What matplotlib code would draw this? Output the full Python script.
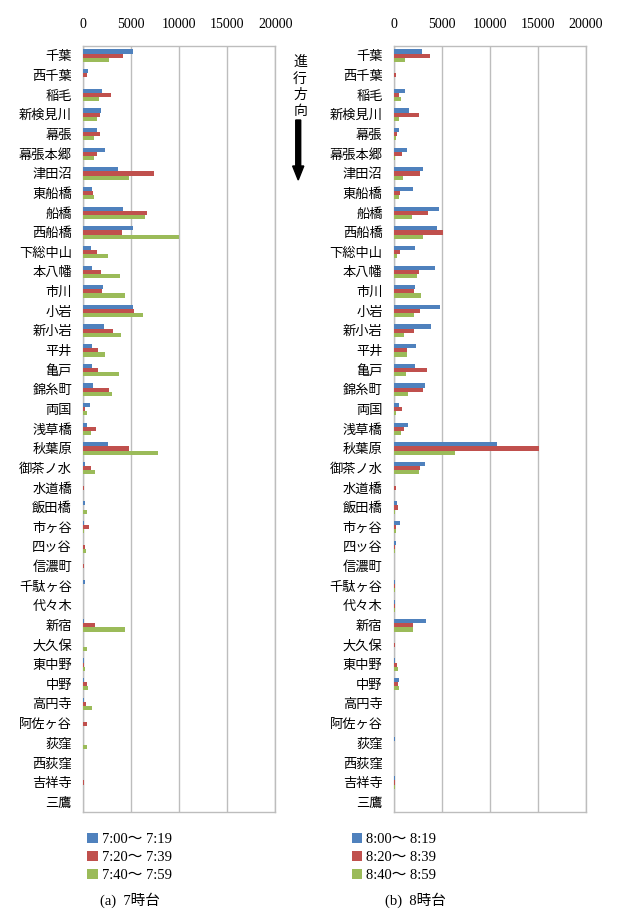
import matplotlib

matplotlib.use("Agg")
import matplotlib.pyplot as plt
from matplotlib.patches import FancyArrow
import numpy as np

plt.rcParams["font.family"] = ["Liberation Serif", "Noto Sans CJK JP", "DejaVu Sans"]

BLUE = "#4F81BD"
RED = "#C0504D"
GREEN = "#9BBB59"
FRAME = "#BDBDBD"

stations = [
    "千葉", "西千葉", "稲毛", "新検見川", "幕張", "幕張本郷", "津田沼", "東船橋",
    "船橋", "西船橋", "下総中山", "本八幡", "市川", "小岩", "新小岩", "平井",
    "亀戸", "錦糸町", "両国", "浅草橋", "秋葉原", "御茶ノ水", "水道橋", "飯田橋",
    "市ヶ谷", "四ッ谷", "信濃町", "千駄ヶ谷", "代々木", "新宿", "大久保", "東中野",
    "中野", "高円寺", "阿佐ヶ谷", "荻窪", "西荻窪", "吉祥寺", "三鷹",
]

# 7時台
h7_a = [5200, 520, 1980, 1910, 1420, 2330, 3640, 940, 4160, 5200,
        800, 970, 2120, 5200, 2190, 970, 970, 1010, 690, 420, 2600, 170,
        0, 170, 100, 0, 0, 200, 0, 140, 0, 140, 100, 50, 0, 0, 0, 0, 0]
h7_b = [4160, 420, 2950, 1740, 1770, 1420, 7390, 1040, 6700, 4030,
        1420, 1840, 2010, 5340, 3160, 1600, 1600, 2710, 170, 1350, 4790, 800,
        100, 0, 620, 240, 140, 0, 0, 1210, 0, 140, 420, 280, 420, 0, 0, 100, 0]
h7_c = [2670, 0, 1670, 1490, 1180, 1180, 4820, 1180, 6490, 10030,
        2640, 3850, 4400, 6280, 3960, 2260, 3780, 2980, 450, 870, 7800, 1280,
        0, 380, 50, 280, 0, 0, 0, 4340, 420, 170, 490, 940, 0, 380, 0, 0, 0]

# 8時台
h8_a = [2990, 70, 1210, 1600, 590, 1350, 3090, 2010, 4720, 4480,
        2190, 4340, 2260, 4790, 3920, 2320, 2220, 3260, 590, 1490, 10760, 3230,
        70, 350, 620, 210, 30, 140, 140, 3400, 50, 100, 590, 30, 0, 170, 0, 170, 0]
h8_b = [3750, 280, 590, 2600, 380, 900, 2710, 660, 3570, 5140,
        620, 2640, 2150, 2740, 2120, 1390, 3440, 3090, 900, 1110, 15100, 2740,
        210, 450, 280, 170, 30, 140, 100, 2010, 140, 350, 490, 30, 0, 0, 0, 140, 0]
h8_c = [1210, 0, 760, 590, 240, 140, 1010, 590, 1910, 3090,
        380, 2390, 2880, 2150, 1040, 1420, 1280, 1530, 240, 730, 6350, 2670,
        70, 170, 280, 140, 30, 100, 100, 2050, 50, 420, 590, 0, 0, 0, 0, 100, 0]

labels7 = ["7:00～ 7:19", "7:20～ 7:39", "7:40～ 7:59"]
labels8 = ["8:00～ 8:19", "8:20～ 8:39", "8:40～ 8:59"]
captions = ["(a)  7時台", "(b)  8時台"]
xticks = [0, 5000, 10000, 15000, 20000]


def draw_panel(ax, series, labels):
    y = np.arange(len(stations))
    h = 0.21
    for off, vals, col, lab in zip((-h, 0, h), series, (BLUE, RED, GREEN), labels):
        ax.barh(y + off, vals, height=h, color=col, label=lab, zorder=3)
    ax.set_xlim(0, 20000)
    ax.set_ylim(len(stations) - 0.5, -0.5)
    ax.set_yticks(y)
    ax.set_yticklabels(stations, fontsize=9.5)
    ax.set_xticks(xticks)
    ax.set_xticklabels([str(t) for t in xticks], fontsize=10)
    ax.xaxis.tick_top()
    ax.tick_params(axis="x", length=0, pad=11)
    ax.tick_params(axis="y", length=0, pad=8)
    ax.grid(axis="x", color=FRAME, linewidth=1.0, zorder=0)
    for spine in ax.spines.values():
        spine.set_color(FRAME)
        spine.set_linewidth(1.0)


fig = plt.figure(figsize=(6.2, 9.22), dpi=100)
ax1 = fig.add_axes([0.134, 0.1193, 0.310, 0.831])
ax2 = fig.add_axes([0.635, 0.1193, 0.310, 0.831])

draw_panel(ax1, (h7_a, h7_b, h7_c), labels7)
draw_panel(ax2, (h8_a, h8_b, h8_c), labels8)

for ax, x0 in ((ax1, 0.141), (ax2, 0.567)):
    ax.legend(loc="upper left", bbox_to_anchor=(x0, 0.097), bbox_transform=fig.transFigure,
              frameon=False, fontsize=10.5, handlelength=0.7, handleheight=0.7,
              handletextpad=0.3, labelspacing=0.35, borderpad=0, borderaxespad=0)

fig.text(0.21, 0.024, captions[0], ha="center", va="center", fontsize=10.5)
fig.text(0.67, 0.024, captions[1], ha="center", va="center", fontsize=10.5)

# 進行方向 arrow
for i, ch in enumerate("進行方向"):
    fig.text(0.484, 1 - (62 + i * 16.5) / 922, ch, ha="center", va="center",
             fontsize=10, family=["Noto Sans CJK JP"])
fig.add_artist(FancyArrow(
    0.481, 1 - 120 / 922, 0, -60 / 922, width=0.008, head_width=0.018,
    head_length=14 / 922, length_includes_head=True, color="black",
    transform=fig.transFigure))

fig.savefig("out.png", dpi=100, facecolor="white")
